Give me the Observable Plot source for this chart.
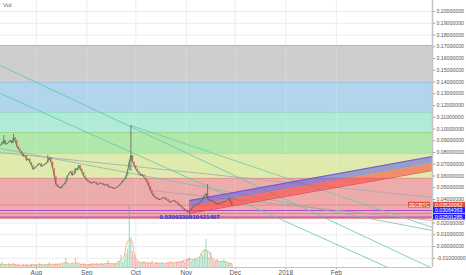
<!DOCTYPE html>
<html><head><meta charset="utf-8">
<script src="https://cdn.jsdelivr.net/npm/d3@7"></script>
<script src="https://cdn.jsdelivr.net/npm/@observablehq/plot@0.6"></script>
<style>
html,body{margin:0;padding:0;background:#fff;}
#chart{position:relative;width:466px;height:275px;overflow:hidden;background:#fff;}
#chart svg{position:absolute;left:0;top:0;}
</style></head><body><div id="chart"></div>
<script>
// ---------- data ----------
const startDate = "2017-07-10";          // first daily candle
const domainStart = "2017-07-10";
const domainEnd = "2018-04-01";
const closes = [
  0.0860,0.0885,0.0902,0.0870,0.0877,0.0890,0.0902,0.0880,0.0928,0.0905,
  0.0851,0.0830,0.0809,0.0790,0.0766,0.0775,0.0732,0.0745,0.0715,0.0690,
  0.0655,0.0670,0.0681,0.0700,0.0706,0.0680,0.0689,0.0700,0.0706,0.0730,
  0.0757,0.0720,0.0664,0.0600,0.0528,0.0510,0.0502,0.0495,0.0519,0.0530,
  0.0553,0.0600,0.0621,0.0640,0.0604,0.0620,0.0664,0.0650,0.0689,0.0660,
  0.0630,0.0600,0.0579,0.0560,0.0553,0.0545,0.0536,0.0550,0.0545,0.0530,
  0.0528,0.0540,0.0536,0.0525,0.0519,0.0530,0.0511,0.0505,0.0502,0.0498,
  0.0494,0.0500,0.0511,0.0525,0.0536,0.0560,0.0570,0.0600,0.0647,0.0720,
  0.0774,0.0720,0.0689,0.0660,0.0638,0.0620,0.0604,0.0610,0.0587,0.0570,
  0.0545,0.0510,0.0477,0.0450,0.0426,0.0415,0.0409,0.0400,0.0400,0.0410,
  0.0417,0.0405,0.0400,0.0385,0.0374,0.0385,0.0391,0.0380,0.0374,0.0360,
  0.0349,0.0335,0.0323,0.0310,0.0298,0.0290,0.0306,0.0320,0.0340,0.0350,
  0.0357,0.0360,0.0366,0.0385,0.0400,0.0430,0.0451,0.0410,0.0391,0.0395,
  0.0383,0.0375,0.0366,0.0360,0.0366,0.0370,0.0374,0.0380,0.0383,0.0395,
  0.0409,0.0380,0.0352];
const volumes = [
  3,5,2,3,2,4,3,2,4,3, 2,3,2,2,3,2,3,2,2,3, 3,2,3,2,4,3,2,3,2,3,
  5,3,2,3,4,3,3,4,3,4, 9,4,3,3,4,3,9,4,3,3, 3,4,3,2,3,3,4,3,3,4,
  3,3,4,3,3,4,7,3,3,4, 3,4,5,6,12,5,8,14,18,62, 30,16,12,8,6,5,4,5,6,4,
  5,4,4,6,3,4,5,4,3,5, 4,3,5,4,6,5,4,4,5,6, 5,6,7,5,8,9,10,6,7,8,
  9,8,10,14,12,18,28,16,10,15, 8,7,6,8,5,6,5,8,6,4, 5,4,3];
const wickDates = ["2017-07-12","2017-07-18","2017-08-08","2017-09-28","2017-11-03","2017-11-14"];
const wickLows  = [0.0870,0.0900,0.0720,0.0640,0.0255,0.0410];
const wickHighs = [0.0945,0.0953,0.0775,0.1030,0.0306,0.0528];

const fibLevels = [0.1711,0.1396,0.1140,0.0970,0.0791,0.0580,0.0238];
const fibColors = ["#cbcbcb","#acd3ec","#ade9d6","#aee6a6","#dde9a9","#eba8a8"];
const fibLineColors = ["#b4b4b4","#9cc6e2","#98dcc4","#98d890","#c8dc8c","#e49494","#e49494"];

const hLineValues = [0.03520062,0.03064363,0.0281,0.02501285];
const hLineColors = ["#f08a8a","#b44ad4","#e07ab0","#b44ad4"];

const trendStart = ["2017-07-10","2017-07-10","2017-09-28","2017-07-10","2017-07-10","2017-10-10"];
const trendStartVal = [0.1540,0.1302,0.1030,0.0834,0.0800,0.0477];
const trendEnd = ["2018-04-01","2018-04-01","2018-04-01","2018-04-01","2018-04-01","2018-04-01"];
const trendEndVal = [-0.0187,-0.0349,0.0162,0.0136,0.0417,0.0221];
const trendColors = ["#5cc8a8","#5cc8a8","#6cc8b0","#8ab8a8","#a8a8a8","#b0a0a0"];

const channelDates = ["2017-11-03","2018-04-01"];
const upperTop = [0.0391,0.0766];
const upperBot = [0.0340,0.0706];
const lowerBot = [0.0281,0.0647];

const yTicks = [-0.01,0,0.01,0.02,0.03,0.04,0.05,0.06,0.07,0.08,0.09,0.10,0.11,0.12,0.13,0.14,0.15,0.16,0.17,0.18,0.19,0.20];
const xTicks = ["2017-08-01","2017-09-01","2017-10-01","2017-11-01","2017-12-01","2018-01-01","2018-02-01"];
const xTickLabels = ["Aug","Sep","Oct","Nov","Dec","2018","Feb"];

const lastPrice = 0.03520062;
const markerValues = [0.03064363,0.02501285];
const symbol = "ZECBTC";
const lowLabel = "0.5309330910421407";
const lowLabelDate = "2017-11-03";
const lowLabelVal = 0.02501285;
const volTitle = "Vol";

// ---------- derived tables ----------
const D = s => new Date(s);
const start = D(startDate);
const prices = closes.map((c,i)=>({date:d3.utcDay.offset(start,i), close:c, open: i? closes[i-1] : c}));
const vols = volumes.map((v,i)=>({date:d3.utcDay.offset(start,i), vol:v, up: prices[i].close >= prices[i].open}));
const wicks = wickDates.map((d,i)=>({date:D(d), low:wickLows[i], high:wickHighs[i]}));
const bands = fibColors.map((c,i)=>({hi:fibLevels[i], lo:fibLevels[i+1], color:c}));
const bandLines = fibLevels.map((v,i)=>({v, color:fibLineColors[i]}));
const hLines = hLineValues.map((v,i)=>({v, color:hLineColors[i]}));
const trends = trendStart.map((d,i)=>({d1:D(d), v1:trendStartVal[i], d2:D(trendEnd[i]), v2:trendEndVal[i], color:trendColors[i]}));
const upper = channelDates.map((d,i)=>({date:D(d), lo:upperBot[i], hi:upperTop[i]}));
const lower = channelDates.map((d,i)=>({date:D(d), lo:lowerBot[i], hi:upperBot[i]}));
const tickDates = xTicks.map(D);
const labelFor = new Map(xTicks.map((t,i)=>[+D(t), xTickLabels[i]]));

const W = 466, H = 275;
const margins = {marginTop:0, marginBottom:8, marginLeft:0, marginRight:34};
const xDomain = [D(domainStart), D(domainEnd)];
const yDomain = [-0.01787, 0.2094];
const font = "'Liberation Sans', Arial, sans-serif";

const main = Plot.plot({
  width: W, height: H, ...margins,
  style: {fontFamily: font, fontSize: "5.2px", color: "#555", background: "#fff", overflow: "visible"},
  x: {type: "utc", domain: xDomain, axis: null, label: null},
  y: {domain: yDomain, axis: null, label: null},
  color: {type: "identity"},
  marks: [
    Plot.gridY(yTicks, {stroke: "#ececec", strokeOpacity: 1}),
    Plot.gridX(tickDates, {stroke: "#ececec", strokeOpacity: 1}),
    Plot.barY(bands, {y1: "lo", y2: "hi", fill: "color", fillOpacity: 0.95}),
    Plot.gridX(tickDates, {stroke: "#fff", strokeOpacity: 0.18}),
    Plot.ruleY(bandLines, {y: "v", stroke: "color", strokeWidth: 1}),
    Plot.ruleY(hLines, {y: "v", stroke: "color", strokeWidth: 1.1}),
    Plot.link(trends, {x1: "d1", y1: "v1", x2: "d2", y2: "v2", stroke: "color", strokeWidth: 0.8, clip: true}),
    Plot.areaY(upper, {x: "date", y1: "lo", y2: "hi", fill: "rgb(80,80,230)", fillOpacity: 0.5, clip: true}),
    Plot.areaY(lower, {x: "date", y1: "lo", y2: "hi", fill: "rgb(255,50,40)", fillOpacity: 0.5, clip: true}),
    Plot.lineY(upper, {x: "date", y: "hi", stroke: "#6a4ad0", strokeWidth: 0.8, clip: true}),
    Plot.lineY(lower, {x: "date", y: "lo", stroke: "#e04040", strokeWidth: 0.8, clip: true}),
    Plot.ruleX(wicks, {x: "date", y1: "low", y2: "high", stroke: "#707070", strokeWidth: 0.9}),
    Plot.line(prices, {x: "date", y: "close", stroke: "#5e5656", strokeWidth: 0.8}),
    Plot.ruleX(prices, {x: "date", y1: "open", y2: "close", stroke: d => d.close >= d.open ? "#3f9a6e" : "#c84848", strokeWidth: 1.3, strokeOpacity: 0.75}),
    Plot.text([{date: D(lowLabelDate), v: lowLabelVal}], {x: "date", y: "v", text: () => lowLabel, fill: "#2a2ad8", fontSize: 6.2, fontWeight: "bold", textAnchor: "middle"}),
    Plot.axisY(yTicks, {anchor: "right", label: null, tickSize: 2, tickPadding: 2, stroke: "#999", tickFormat: d => d3.format(".8f")(d).replace("\u2212","-"), fill: "#555", fontSize: 5.2}),
    Plot.axisX(tickDates, {anchor: "bottom", label: null, tickSize: 2, tickPadding: 1, stroke: "#999", tickFormat: d => labelFor.get(+d), fill: "#555", fontSize: 6.5}),
    Plot.ruleX([xDomain[1]], {stroke: "#c4c4c4", strokeWidth: 1.5}),
    Plot.ruleY([yDomain[0]], {stroke: "#c4c4c4", strokeWidth: 1})
  ]
});
document.getElementById("chart").appendChild(main);

// volume overlay with its own y scale
const volPlot = Plot.plot({
  width: W, height: H, ...margins,
  style: {background: "transparent"},
  x: {type: "utc", domain: xDomain, axis: null, label: null},
  y: {domain: [0, 267], axis: null, label: null},
  marks: [
    Plot.ruleX(vols, {x: "date", y1: 0, y2: "vol", stroke: d => d.up ? "#4cbf8c" : "#f26b6b", strokeWidth: 1.2, strokeOpacity: 0.5}),
    Plot.lineY(vols, Plot.windowY({k: 5}, {x: "date", y: "vol", stroke: "#f5a262", strokeWidth: 0.9, strokeOpacity: 0.8}))
  ]
});
volPlot.style.pointerEvents = "none";
document.getElementById("chart").appendChild(volPlot);

// price tags on the right axis, placed through the plot's scales
const ys = main.scale("y"), xs = main.scale("x");
const svg = d3.select(main);
const xr = xs.range[1];
const tags = [{v: lastPrice, bg: "#e2513f"}, ...markerValues.map(v => ({v, bg: "#1f1fff"}))];
const g = svg.append("g").attr("font-family", font).attr("font-size", 5.2).attr("text-anchor", "start");
tags.forEach(t => {
  const y = ys.apply(t.v);
  g.append("rect").attr("x", xr + 1).attr("y", y - 2.9).attr("width", 32).attr("height", 5.8).attr("fill", t.bg);
  g.append("text").attr("x", xr + 3).attr("y", y + 1.9).attr("fill", "#fff").text(d3.format(".8f")(t.v));
});
const yl = ys.apply(lastPrice);
g.append("rect").attr("x", xr - 24).attr("y", yl - 2.9).attr("width", 22).attr("height", 5.8).attr("fill", "#e2513f");
g.append("text").attr("x", xr - 13).attr("y", yl + 1.9).attr("fill", "#fff").attr("text-anchor", "middle").text(symbol);
d3.select(volPlot).append("text").attr("x", 3).attr("y", 7).attr("fill", "#666").attr("font-family", font)
  .attr("font-size", 6).attr("text-anchor", "start").text(volTitle);
</script></body></html>
